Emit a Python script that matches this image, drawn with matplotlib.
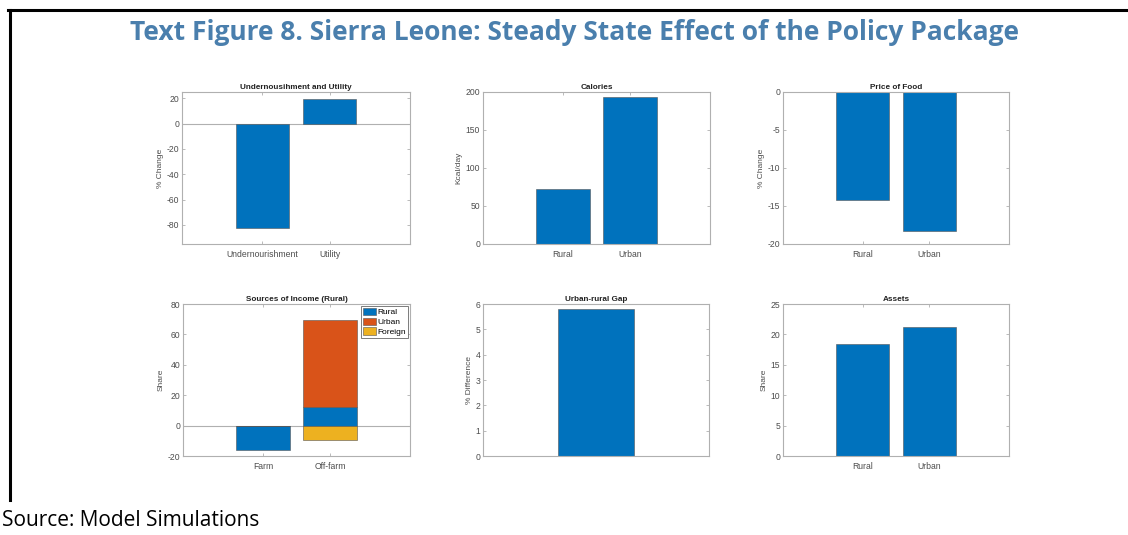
import matplotlib
matplotlib.use('Agg')
import matplotlib.pyplot as plt
from matplotlib.patches import Patch

# values
under_labels = ['Undernourishment', 'Utility']
under_vals = [-82, 19.2]

area_labels = ['Rural', 'Urban']
calories = [73, 193]
food_price = [-14.2, -18.3]
assets = [18.5, 21.2]

income_labels = ['Farm', 'Off-farm']
income_rural = [-16, 12.1]
income_urban = [0, 57.5]
income_foreign = [0, -9.5]

gap = [5.82]

BLUE = '#0072BD'
ORANGE = '#D95319'
YELLOW = '#EDB120'
AX_COL = '#b0b0b0'
TXT_COL = '#4d4d4d'

plt.rcParams['font.family'] = ['Liberation Sans', 'DejaVu Sans']
plt.rcParams['axes.unicode_minus'] = False

fig = plt.figure(figsize=(11.28, 5.35), dpi=100)

W, H = 1128, 535
def add_ax(x0, y0, x1, y1):
    return fig.add_axes([x0 / W, 1 - y1 / H, (x1 - x0) / W, (y1 - y0) / H])

def style(ax, title, ylabel, ylim, yticks, xlim):
    ax.set_title(title, fontsize=5.9, fontweight='bold', color='#222222', pad=2)
    ax.set_ylabel(ylabel, fontsize=6, color=TXT_COL, labelpad=2)
    ax.set_ylim(*ylim)
    ax.set_yticks(yticks)
    ax.set_xlim(*xlim)
    for s in ax.spines.values():
        s.set_color(AX_COL)
        s.set_linewidth(0.8)
    ax.tick_params(direction='in', length=2, width=0.6, colors=AX_COL,
                   labelcolor=TXT_COL, labelsize=6.2, top=True, right=True, pad=2)
    ax.tick_params(axis='x', pad=4)

bar_kw = dict(width=0.8, edgecolor='#555555', linewidth=0.4, zorder=2)

# Undernourishment and utility
ax1 = add_ax(182, 92, 410, 244)
ax1.bar([1, 2], under_vals, color=BLUE, **bar_kw)
ax1.axhline(0, color=AX_COL, lw=0.8, zorder=1)
style(ax1, 'Undernousihment and Utility', '% Change', (-95, 25),
      [-80, -60, -40, -20, 0, 20], (-0.2, 3.2))
ax1.set_xticks([1, 2], under_labels)

# Calories
ax2 = add_ax(483, 92, 710, 244)
ax2.bar([1, 2], calories, color=BLUE, **bar_kw)
style(ax2, 'Calories', 'Kcal/day', (0, 200), [0, 50, 100, 150, 200], (-0.2, 3.2))
ax2.set_xticks([1, 2], area_labels)

# Price of food
ax3 = add_ax(783, 92, 1009, 244)
ax3.bar([1, 2], food_price, color=BLUE, **bar_kw)
style(ax3, 'Price of Food', '% Change', (-20, 0), [-20, -15, -10, -5, 0], (-0.2, 3.2))
ax3.set_xticks([1, 2], area_labels)

# Sources of income, stacked (negatives stack downward)
ax4 = add_ax(183, 304, 410, 456)
x = [1, 2]
pos_base = [0, 0]
neg_base = [0, 0]
for vals, col in [(income_rural, BLUE), (income_urban, ORANGE), (income_foreign, YELLOW)]:
    bottoms = []
    for i, v in enumerate(vals):
        if v >= 0:
            bottoms.append(pos_base[i])
            pos_base[i] += v
        else:
            bottoms.append(neg_base[i])
            neg_base[i] += v
    ax4.bar(x, vals, bottom=bottoms, color=col, **bar_kw)
ax4.axhline(0, color=AX_COL, lw=0.8, zorder=1)
style(ax4, 'Sources of Income (Rural)', 'Share', (-20, 80), [-20, 0, 20, 40, 60, 80], (-0.2, 3.2))
ax4.set_xticks(x, income_labels)
handles = [Patch(facecolor=c, edgecolor='#555555', linewidth=0.4) for c in (BLUE, ORANGE, YELLOW)]
leg = ax4.legend(handles, ['Rural', 'Urban', 'Foreign'], loc='upper right', fontsize=6,
                 frameon=True, fancybox=False, borderpad=0.25, labelspacing=0.15,
                 handlelength=1.6, handleheight=1.0, handletextpad=0.2,
                 borderaxespad=0.2, framealpha=1)
leg.get_frame().set_edgecolor('#666666')
leg.get_frame().set_linewidth(0.6)

# Urban-rural gap
ax5 = add_ax(483, 304, 709, 456)
ax5.bar([1], gap, color=BLUE, **bar_kw)
style(ax5, 'Urban-rural Gap', '% Difference', (0, 6), [0, 1, 2, 3, 4, 5, 6], (-0.19, 2.19))
ax5.set_xticks([])

# Assets
ax6 = add_ax(783, 304, 1009, 456)
ax6.bar([1, 2], assets, color=BLUE, **bar_kw)
style(ax6, 'Assets', 'Share', (0, 25), [0, 5, 10, 15, 20, 25], (-0.2, 3.2))
ax6.set_xticks([1, 2], area_labels)

# page title, source and frame lines
fig.text(574 / W, 1 - 33 / H, 'Text Figure 8. Sierra Leone: Steady State Effect of the Policy Package',
         ha='center', va='center', fontsize=19, fontweight='bold', color='#4a7fad',
         family=['Open Sans', 'DejaVu Sans'])
fig.text(2 / W, 1 - 520 / H, 'Source: Model Simulations', ha='left', va='center',
         fontsize=15, color='black', family=['Open Sans', 'DejaVu Sans'])
fig.add_artist(plt.Line2D([8 / W, 1], [1 - 10 / H, 1 - 10 / H], color='black', lw=2.2))
fig.add_artist(plt.Line2D([10 / W, 10 / W], [1 - 10 / H, 1 - 500 / H], color='black', lw=2.2))

fig.savefig('out.png', dpi=100)
